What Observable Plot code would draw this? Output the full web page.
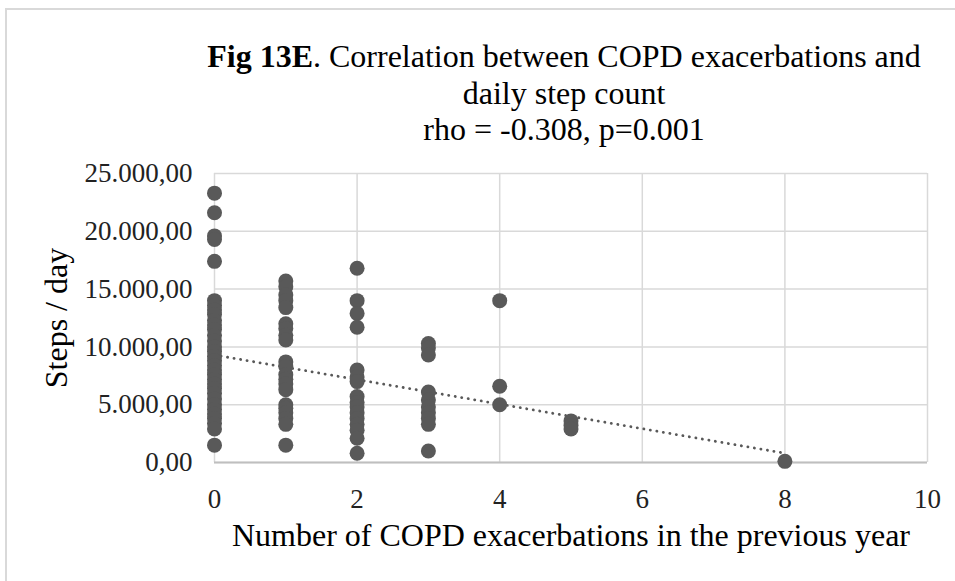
<!DOCTYPE html>
<html>
<head>
<meta charset="utf-8">
<script src="https://cdn.jsdelivr.net/npm/d3@7"></script>
<script src="https://cdn.jsdelivr.net/npm/@observablehq/plot@0.6"></script>
<style>
  html, body { margin: 0; padding: 0; background: #fff; }
  #frame { position: absolute; left: 5px; top: 8px; width: 960px; height: 590px; border: 2px solid #d9d9d9; box-sizing: border-box; }
  #title { position: absolute; left: 164px; width: 800px; top: 38px; text-align: center;
           font-family: "Liberation Serif", "Times New Roman", serif; font-size: 32px; line-height: 36.5px; color: #000; }
  #chart { position: absolute; left: 0; top: 150px; }
  #chart svg { font-family: "Liberation Serif", "Times New Roman", serif; }
</style>
</head>
<body>
<div id="frame"></div>
<div id="title"><b>Fig 13E</b>. Correlation between COPD exacerbations and<br>daily step count<br>rho = -0.308, p=0.001</div>
<div id="chart"></div>
<script>
// exacerbations (x) and steps/day (y)
const exac0 = [23300, 21600, 19600, 19300, 17400, 14000, 13600, 13200, 12800, 12300, 11900, 11500, 11000, 10500, 10000, 9600, 9200, 8800, 8400, 8000, 7600, 7200, 6800, 6400, 6000, 5500, 5000, 4600, 4200, 3800, 3400, 2900, 1500];
const exac1 = [15700, 15200, 14500, 14000, 13400, 12000, 11600, 11000, 10600, 8700, 8300, 7600, 7200, 6800, 6300, 5000, 4700, 4300, 3800, 3300, 1500];
const exac2 = [16800, 14000, 12900, 11700, 8000, 7400, 7000, 5700, 5200, 4800, 4300, 3800, 3300, 2800, 2100, 800];
const exac3 = [10300, 9900, 9300, 6100, 5400, 4800, 4300, 3800, 3300, 1000];
const exac4 = [14000, 6600, 5000];
const exac5 = [3600, 3200, 2900];
const exac8 = [100];
const groups = [[0, exac0], [1, exac1], [2, exac2], [3, exac3], [4, exac4], [5, exac5], [8, exac8]];

// linear trend line endpoints (x, steps)
const trendX = [0, 8];
const trendY = [9300, 800];

const xTicks = [0, 2, 4, 6, 8, 10];
const yTicks = [0, 5000, 10000, 15000, 20000, 25000];

const points = groups.flatMap(([x, ys]) => ys.map(y => ({x, y})));
const trend = trendX.map((x, i) => ({x, y: trendY[i]}));

const loc = d3.formatLocale({decimal: ",", thousands: ".", grouping: [3], currency: ["", ""]});
const fmt = loc.format(",.2f");

const plot = Plot.plot({
  width: 955,
  height: 431,
  marginLeft: 214,
  marginRight: 28,
  marginTop: 23,
  marginBottom: 119,
  x: {domain: [0, 10], ticks: xTicks, label: null},
  y: {domain: [0, 25000], ticks: yTicks, label: null},
  style: {fontSize: "27px", color: "#222"},
  marks: [
    Plot.gridX(xTicks, {stroke: "#d9d9d9", strokeOpacity: 1, strokeWidth: 1.5}),
    Plot.gridY(yTicks, {stroke: "#d9d9d9", strokeOpacity: 1, strokeWidth: 1.5}),
    Plot.ruleY([0], {stroke: "#bfbfbf", strokeWidth: 2}),
    Plot.axisX(xTicks, {tickSize: 0, tickPadding: 26, fontSize: 27, label: null}),
    Plot.axisY(yTicks, {tickSize: 0, tickPadding: 22, fontSize: 27, tickFormat: fmt, label: null}),
    Plot.line(trend, {x: "x", y: "y", stroke: "#595959", strokeWidth: 2.8, strokeDasharray: "0.1 6.5", strokeLinecap: "round"}),
    Plot.dot(points, {x: "x", y: "y", r: 7.5, fill: "#595959", stroke: "none"}),
    Plot.text(["Number of COPD exacerbations in the previous year"], {frameAnchor: "bottom", lineAnchor: "middle", textAnchor: "middle", dy: 73, fontSize: 32, fill: "#000"}),
    Plot.text(["Steps / day"], {frameAnchor: "left", lineAnchor: "middle", textAnchor: "middle", dx: -158, rotate: -90, fontSize: 32, fill: "#000"})
  ]
});
document.getElementById("chart").appendChild(plot);
</script>
</body>
</html>
